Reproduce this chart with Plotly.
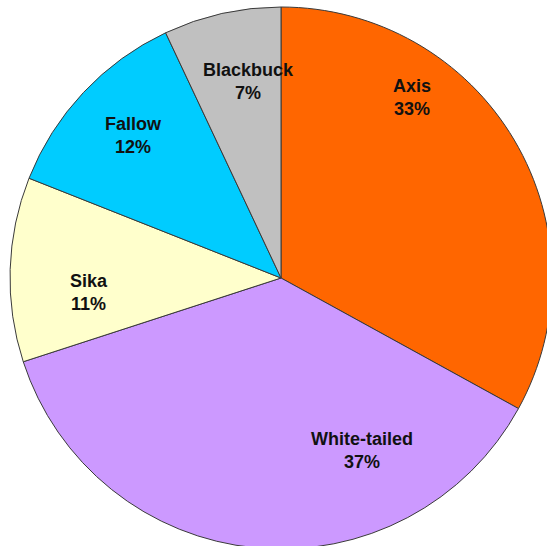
import plotly.graph_objects as go

labels = ["Axis", "White-tailed", "Sika", "Fallow", "Blackbuck"]
values = [33, 37, 11, 12, 7]
colors = ["#FF6600", "#CC99FF", "#FFFFCC", "#00CCFF", "#C0C0C0"]

# label block centres in page pixels (original "best fit" placement)
label_pos = [(412, 97), (362, 450), (89, 292), (133, 135), (248, 81)]

# figure slightly larger than the window; the pie is cropped at right/bottom like the original
W, H = 560, 560
fig = go.Figure(go.Pie(
    labels=labels,
    values=values,
    sort=False,
    direction="clockwise",
    rotation=0,
    marker=dict(colors=colors, line=dict(color="#3a3a3a", width=1)),
    textinfo="none",
    hoverinfo="label+percent",
    showlegend=False,
    domain=dict(x=[10 / W, 552 / W], y=[(H - 549) / H, (H - 7) / H]),
))

total = sum(values)
for (lab, val), (px, py) in zip(zip(labels, values), label_pos):
    fig.add_annotation(
        x=px / W, y=1 - py / H, xref="paper", yref="paper",
        text=f"<b>{lab}<br>{round(100 * val / total)}%</b>",
        showarrow=False, font=dict(family="Liberation Sans, Arial", size=18, color="#111111"),
        xanchor="center", yanchor="middle",
    )

fig.update_layout(
    width=W, height=H,
    margin=dict(l=0, r=0, t=0, b=0),
    paper_bgcolor="white",
)
fig.write_html(
    "out.html",
    config={"displayModeBar": False},
    post_script=(
        "document.body.style.margin='0';"
        "document.body.style.overflow='hidden';"
        "document.documentElement.style.overflow='hidden';"
    ),
)
